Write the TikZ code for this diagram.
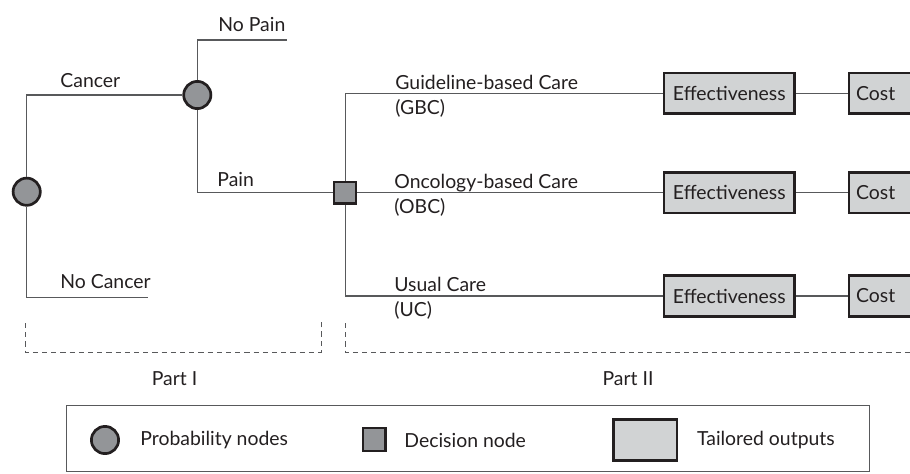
\documentclass[tikz,border=0pt]{standalone}
\usepackage{fontspec}
\setmainfont{Lato}
\usepackage{tikz}
\usetikzlibrary{positioning}
\definecolor{cK}{HTML}{231f20}
\definecolor{cL}{HTML}{58595b}
\definecolor{cM}{HTML}{939598}
\definecolor{cP}{HTML}{d1d3d4}
\newcommand{\lblfont}{\fontsize{9.7}{11.6}\selectfont}
\tikzset{
  chance/.style={circle,draw=cK,line width=1.35pt,fill=cM,
                 minimum size=13.6pt,inner sep=0pt},
  decide/.style={rectangle,draw=cK,line width=1.1pt,fill=cM,
                 minimum size=10.9pt,inner sep=0pt},
  outbox/.style={rectangle,draw=cK,line width=1.35pt,fill=cP,
                 minimum width=65.2pt,minimum height=20.3pt,inner sep=0pt,
                 text=cK,font=\lblfont},
  costbox/.style={rectangle,draw=cK,line width=1.35pt,fill=cP,
                 text width=32.8pt,inner xsep=3.6pt,inner ysep=0pt,
                 minimum height=20.3pt,align=left,text=cK,font=\lblfont},
  keybox/.style={rectangle,draw=cK,line width=1.35pt,fill=cP,
                 minimum width=31.6pt,minimum height=20.3pt,inner sep=0pt},
  branch/.style={draw=cL,line width=0.6pt},
  lbl/.style={inner sep=0pt,anchor=base west,text=cK,font=\lblfont},
  partline/.style={draw=cL,line width=0.5pt,dash pattern=on 2.6pt off 2pt},
}

\begin{document}
\begin{tikzpicture}[x=0.5pt,y=-0.5pt]
  \useasboundingbox (0,0) rectangle (910,473);
  % part I: chance nodes
  \node[chance](root) at (26.7,191.7){};
  \node[chance](pain) at (197.3,95){};
  \coordinate (nocancer) at (148.3,297.7);
  \coordinate (nopain) at (287,40);
  \draw[branch] (root) |- (pain);
  \draw[branch] (root) |- (nocancer);
  \draw[branch] (pain) |- (nopain);
  \node[lbl](lcancer) at (60,87){Cancer};
  \node[lbl](lnocancer) at (60,288.3){No Cancer};
  \node[lbl](lnopain) at (218,31.7){No Pain};
  \node[lbl](lpain) at (217,186.7){Pain};
  % part II: decision and outputs
  \node[decide](dec) at (345.2,192.6){};
  \draw[branch] (pain) |- (dec);
  \foreach \i/\y in {1/93.3,2/192.6,3/296}{
    \node[outbox](eff\i) at (729.3,\y){Effectiveness};
    \node[costbox](cost\i) at (889,\y){Cost};
    \draw[branch] (eff\i) -- (cost\i);
  }
  \draw[branch] (dec) |- (eff1);
  \draw[branch] (dec) -- (eff2);
  \draw[branch] (dec) |- (eff3);
  \node[lbl](lgbc) at (395,89){Guideline-based Care};
  \node[lbl](sgbc) at (395,114){(GBC)};
  \node[lbl](lobc) at (394,188.3){Oncology-based Care};
  \node[lbl](sobc) at (394,213.3){(OBC)};
  \node[lbl](luc) at (394,291.7){Usual Care};
  \node[lbl](suc) at (394,316.7){(UC)};
  % parts
  \draw[partline] (25,323) |- (321,352) -- (321,321);
  \draw[partline] (345,323) |- (915,352);
  \node[lbl,anchor=base](partI) at (174.5,385){Part I};
  \node[lbl,anchor=base](partII) at (628,385){Part II};
  % legend
  \draw[draw=cL,line width=0.5pt] (66.7,405.7) rectangle (869.3,471);
  \node[chance](kchance) at (105,440){};
  \node[lbl,anchor=west](tchance) at (140,440){Probability nodes};
  \node[decide,minimum size=11.4pt](kdec) at (374,439.5){};
  \node[lbl,anchor=west](tdec) at (404,440){Decision node};
  \node[keybox](kout) at (645.3,440){};
  \node[lbl,anchor=west](tout) at (696.7,440){Tailored outputs};
\end{tikzpicture}
\end{document}
